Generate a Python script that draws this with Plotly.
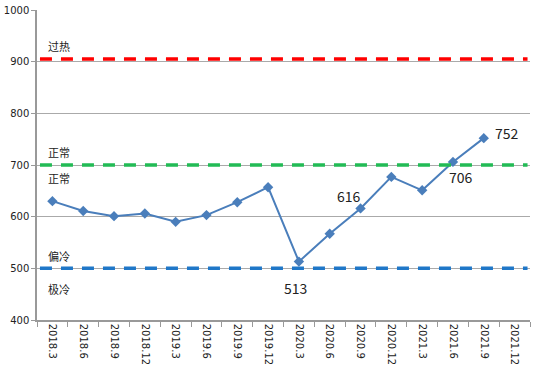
import plotly.graph_objects as go

categories = ["2018.3", "2018.6", "2018.9", "2018.12", "2019.3", "2019.6", "2019.9", "2019.12",
              "2020.3", "2020.6", "2020.9", "2020.12", "2021.3", "2021.6", "2021.9", "2021.12"]
values = [630, 611, 601, 606, 590, 603, 628, 657, 513, 567, 616, 677, 651, 706, 752, None]
hot_level = 905
normal_level = 700
cold_level = 500
labeled = {"2020.3": ("513", -3, 26), "2020.9": ("616", -12, -12), "2021.6": ("706", 8, 15), "2021.9": ("752", 23, -5)}

fig = go.Figure()
shapes = []
for lvl, col in [(hot_level, "#FF0000"), (normal_level, "#22BB55"), (cold_level, "#1F77C8")]:
    shapes.append(dict(type="line", xref="paper", yref="y", x0=0.006, x1=0.995, y0=lvl, y1=lvl,
                       line=dict(color=col, width=3.5, dash="12px,9px")))
fig.add_trace(go.Scatter(x=categories, y=values, mode="lines+markers",
                         line=dict(color="#4A7EBB", width=2),
                         marker=dict(symbol="diamond", size=8, color="#4A7EBB"),
                         showlegend=False))

ann = []
for c, (t, dx, dy) in labeled.items():
    i = categories.index(c)
    ann.append(dict(xref="x", yref="y", x=i, y=values[i], text=t, showarrow=False,
                    xshift=dx, yshift=-dy, font=dict(size=14, color="#222")))
zone_labels = [("过热", hot_level, 13), ("正常", normal_level, 13), ("正常", normal_level, -13),
               ("偏冷", cold_level, 12), ("极冷", cold_level, -21)]
for t, lvl, dy in zone_labels:
    ann.append(dict(xref="paper", x=0.018, y=lvl, text=t, showarrow=False, xanchor="left",
                    yshift=dy, font=dict(size=11, color="#222")))

fig.update_layout(
    width=554, height=368, margin=dict(l=37, r=24, t=10, b=48),
    paper_bgcolor="white", plot_bgcolor="white",
    font=dict(family="Noto Sans CJK SC, DejaVu Sans, sans-serif", color="#222"),
    annotations=ann, shapes=shapes,
    xaxis=dict(type="category", tickangle=90, tickson="boundaries", ticks="outside",
               ticklen=5, tickcolor="#999", showline=True, linecolor="#999", linewidth=1.5,
               showgrid=False, tickfont=dict(size=10, family="DejaVu Sans"), range=[-0.5, 15.5],
               automargin=False),
    yaxis=dict(range=[400, 1000], dtick=100, showgrid=True, gridcolor="#AAAAAA", gridwidth=1,
               showline=True, linecolor="#999", linewidth=1.5, ticks="outside", ticklen=4,
               tickcolor="#999", tickfont=dict(size=10, family="DejaVu Sans", color="#222"),
               zeroline=False, automargin=False),
)
fig.write_html("out.html", config={"displayModeBar": False},
               post_script="document.body.style.margin='0';")
